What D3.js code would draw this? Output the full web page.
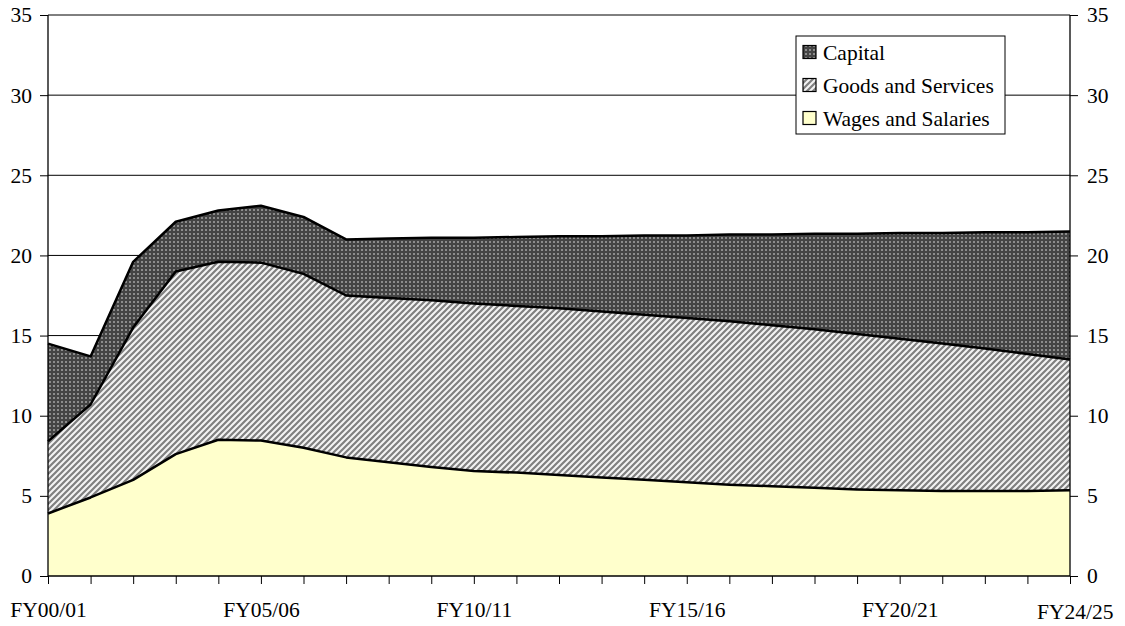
<!DOCTYPE html>
<html><head><meta charset="utf-8">
<script src="https://cdn.jsdelivr.net/npm/d3@7"></script>
<style>
html,body{margin:0;padding:0;background:#fff;}
svg text{font-family:"Liberation Serif","Times New Roman",Times,"DejaVu Serif",serif !important;fill:#000;}
</style></head>
<body><svg id="chart" width="1125" height="626"></svg>
<script>
const categories = ["FY00/01","FY01/02","FY02/03","FY03/04","FY04/05","FY05/06","FY06/07","FY07/08","FY08/09","FY09/10","FY10/11","FY11/12","FY12/13","FY13/14","FY14/15","FY15/16","FY16/17","FY17/18","FY18/19","FY19/20","FY20/21","FY21/22","FY22/23","FY23/24","FY24/25"];
const wages   = [3.9,4.9,6.0,7.6,8.5,8.45,8.0,7.4,7.1,6.8,6.55,6.45,6.3,6.15,6.0,5.85,5.7,5.6,5.5,5.4,5.35,5.3,5.3,5.3,5.35];
const goods   = [4.5,5.8,9.5,11.4,11.1,11.1,10.85,10.1,10.25,10.4,10.45,10.4,10.4,10.35,10.3,10.25,10.2,10.05,9.9,9.7,9.45,9.2,8.9,8.55,8.15];
const capital = [6.1,3.0,4.1,3.1,3.2,3.55,3.55,3.5,3.7,3.9,4.1,4.3,4.5,4.7,4.95,5.15,5.4,5.65,5.95,6.25,6.6,6.9,7.25,7.6,8.0];
const seriesNames = ["Wages and Salaries","Goods and Services","Capital"];
const xTickLabels = ["FY00/01","FY05/06","FY10/11","FY15/16","FY20/21","FY24/25"];
const yTicks = [0,5,10,15,20,25,30,35];

const svg = d3.select("#chart");
const L=48, R=1070, T=15, B=576;
const x = d3.scalePoint().domain(categories).range([L,R]);
const y = d3.scaleLinear().domain([0,35]).range([B,T]);

const defs = svg.append("defs");
const pc = defs.append("pattern").attr("id","pCap").attr("patternUnits","userSpaceOnUse").attr("width",4).attr("height",4);
pc.append("rect").attr("width",4).attr("height",4).attr("fill","#444");
pc.append("rect").attr("x",1).attr("y",1).attr("width",2).attr("height",2).attr("fill","#8c8c8c");
const pg = defs.append("pattern").attr("id","pGoods").attr("patternUnits","userSpaceOnUse").attr("width",6).attr("height",6);
pg.append("rect").attr("width",6).attr("height",6).attr("fill","#f4f4f4");
pg.append("path").attr("d","M0,6L6,0M-1.5,1.5L1.5,-1.5M4.5,7.5L7.5,4.5").attr("stroke","#808080").attr("stroke-width",2.2);

const fills = {"Wages and Salaries":"#FFFFCC","Goods and Services":"url(#pGoods)","Capital":"url(#pCap)"};

const table = categories.map((c,i)=>({cat:c,"Wages and Salaries":wages[i],"Goods and Services":goods[i],"Capital":capital[i]}));
const stacked = d3.stack().keys(seriesNames)(table);

svg.append("g").selectAll("line").data(yTicks.filter(d=>d>0)).join("line")
  .attr("x1",L).attr("x2",R).attr("y1",d=>y(d)).attr("y2",d=>y(d))
  .attr("stroke","#000").attr("stroke-width",1);

const area = d3.area().x(d=>x(d.data.cat)).y0(d=>y(d[0])).y1(d=>y(d[1]));
const line = d3.line().x(d=>x(d.data.cat)).y(d=>y(d[1]));
const g = svg.append("g");
g.selectAll("path.a").data(stacked).join("path").attr("class","a")
  .attr("d",area).attr("fill",d=>fills[d.key]);
g.selectAll("path.l").data(stacked).join("path").attr("class","l")
  .attr("d",line).attr("fill","none").attr("stroke","#000").attr("stroke-width",2.5).attr("stroke-linejoin","round");

const fs = "21.5px";
const yl = d3.axisLeft(y).tickValues(yTicks).tickSize(8).tickPadding(8);
const yr = d3.axisRight(y).tickValues(yTicks).tickSize(8).tickPadding(9);
const gl = svg.append("g").attr("transform",`translate(${L},0)`).call(yl);
const gr = svg.append("g").attr("transform",`translate(${R},0)`).call(yr);
[gl,gr].forEach(a=>{a.attr("font-family",null).attr("font-size",null);
  a.select(".domain").attr("stroke","#000").attr("stroke-width",1.3);
  a.selectAll("text").style("font-size",fs);});
gl.select(".domain").attr("d",`M0,${T}V${B}`);
gr.select(".domain").attr("d",`M0,${T}V${B}`);

const xa = d3.axisBottom(x).tickSize(8).tickFormat(d=>xTickLabels.includes(d)?d:"").tickPadding(18);
const gx = svg.append("g").attr("transform",`translate(0,${B})`).call(xa);
gx.attr("font-family",null).attr("font-size",null);
gx.select(".domain").attr("d",`M${L},0H${R}`).attr("stroke","#000").attr("stroke-width",1.3);
gx.selectAll("text").style("font-size",fs);
gx.selectAll("text").filter(d=>d===categories[categories.length-1]).attr("text-anchor","end").attr("dx",43).attr("dy","0.78em");

const lg = svg.append("g").attr("transform","translate(796,36)");
lg.append("rect").attr("width",209).attr("height",98).attr("fill","#fff").attr("stroke","#000").attr("stroke-width",1);
const legItems = ["Capital","Goods and Services","Wages and Salaries"];
legItems.forEach((k,i)=>{
  const yy = 16 + i*33;
  lg.append("rect").attr("x",7).attr("y",yy-6.5).attr("width",13).attr("height",13).attr("fill",fills[k]).attr("stroke","#000").attr("stroke-width",1.2);
  lg.append("text").attr("x",27).attr("y",yy).attr("dy","0.35em").style("font-size",fs).text(k);
});
</script></body></html>
